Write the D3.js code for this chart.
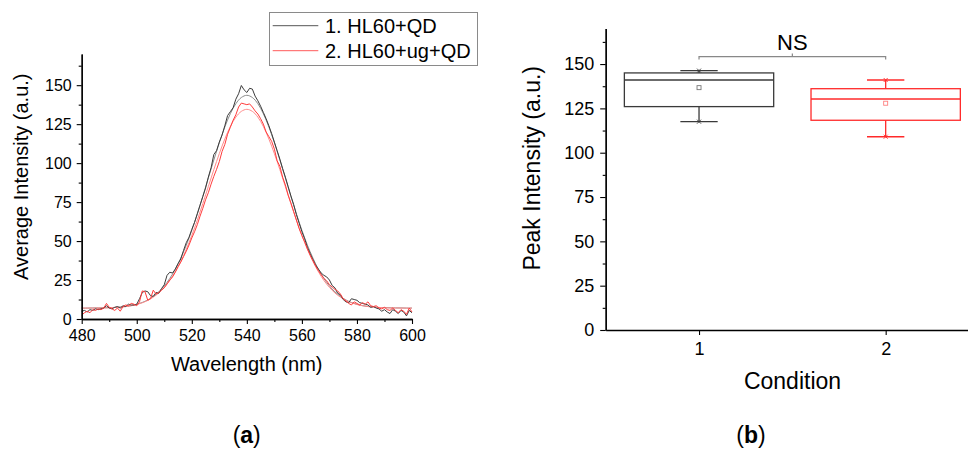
<!DOCTYPE html>
<html><head><meta charset="utf-8">
<script src="https://cdn.jsdelivr.net/npm/d3@7"></script>
<style>
html,body{margin:0;padding:0;background:#fff;}
svg{display:block;}
text{font-family:"Liberation Sans",Arial,sans-serif;fill:#000;}
</style></head>
<body><svg id="chart" width="968" height="450"></svg>
<script>
// ---------- Panel (a) data ----------
const rawWavelengths = d3.range(480, 601, 1);
const fitWavelengths = d3.range(480, 601, 2);
const seriesNames = ["1. HL60+QD", "2. HL60+ug+QD"];
const blackRaw = [5.0,5.5,4.5,6.0,5.5,6.5,6.0,6.5,7.0,8.5,
  7.0,6.5,7.5,8.0,7.0,8.5,8.0,9.5,9.0,9.0,
  9.5,13.0,17.0,18.0,17.5,15.0,14.5,17.0,16.5,19.5,
  22.0,28.0,30.0,29.5,32.0,35.5,38.5,44.0,49.0,52.5,
  57.5,62.0,67.5,73.0,78.5,84.0,91.0,97.0,105.5,108.0,
  113.5,118.0,124.0,130.5,133.0,135.5,141.0,144.5,149.8,147.0,
  145.3,148.0,147.5,143.0,140.0,136.5,132.5,128.5,124.0,119.0,
  113.5,108.0,102.5,96.5,91.0,85.0,79.0,73.5,67.0,61.5,
  56.0,51.5,46.0,42.0,38.0,34.5,32.0,29.5,28.0,27.0,
  25.0,21.5,20.0,16.5,15.5,12.5,11.0,10.5,13.0,12.5,
  12.0,10.5,10.0,9.5,9.0,7.5,8.0,7.0,6.5,5.0,
  6.0,4.5,3.5,6.0,5.0,3.5,5.5,4.5,2.0,5.5,4.0];
const redRaw = [2.5,4.0,5.0,4.0,6.0,5.5,6.5,6.0,7.0,10.0,
  7.5,6.5,5.5,7.0,5.0,8.0,9.0,8.5,10.0,9.5,
  8.5,11.0,18.0,17.5,12.0,13.0,18.5,16.0,17.0,18.5,
  20.0,22.5,25.0,27.0,30.0,33.5,36.5,40.0,43.5,47.5,
  52.0,56.0,60.5,66.0,71.0,76.5,81.0,86.5,91.5,96.0,
  101.0,107.5,112.0,118.5,123.0,127.5,131.0,136.0,138.5,138.0,
  137.5,138.0,136.0,133.5,131.5,128.5,125.0,120.0,117.0,114.0,
  109.0,101.5,98.0,91.0,86.0,79.5,74.5,69.0,63.5,58.0,
  53.5,49.5,45.0,41.0,37.5,34.0,31.0,28.5,26.0,24.5,
  22.0,20.5,19.0,18.0,16.0,13.0,11.5,10.0,9.0,11.0,
  10.0,9.0,10.5,9.5,11.0,8.5,8.0,8.5,7.0,6.5,
  7.5,6.0,5.5,7.0,5.5,4.0,6.0,5.0,3.0,7.0,4.5];
const blackFit = [7.0,7.0,7.1,7.1,7.2,7.3,7.4,7.7,8.0,8.6,
  9.4,10.6,12.2,14.5,17.4,21.2,26.0,31.9,39.1,47.4,
  56.9,67.4,78.7,90.4,102.0,113.1,123.2,131.7,138.1,142.1,
  143.5,
  142.1,138.1,131.7,123.2,113.1,102.0,90.4,78.7,67.4,56.9,
  47.4,39.1,31.9,26.0,21.2,17.4,14.5,12.2,10.6,9.4,
  8.6,8.0,7.7,7.4,7.3,7.2,7.1,7.1,7.0,7.0];
const redFit = [7.0,7.0,7.0,7.1,7.1,7.2,7.4,7.6,8.0,8.5,
  9.3,10.4,11.9,14.0,16.7,20.3,24.7,30.3,36.9,44.7,
  53.6,63.4,74.0,84.9,95.8,106.1,115.5,123.5,129.5,133.2,
  134.5,
  133.2,129.5,123.5,115.5,106.1,95.8,84.9,74.0,63.4,53.6,
  44.7,36.9,30.3,24.7,20.3,16.7,14.0,11.9,10.4,9.3,
  8.5,8.0,7.6,7.4,7.2,7.1,7.1,7.0,7.0,7.0];
const aXTicks = [480,500,520,540,560,580,600];
const aXMinor = [490,510,530,550,570,590];
const yTicks = [0,25,50,75,100,125,150];
const yMinor = [12.5,37.5,62.5,87.5,112.5,137.5,162.5];

// ---------- Panel (b) data ----------
const conditions = [1, 2];
const q1 = [126.0, 118.3];
const medians = [141.0, 130.3];
const q3 = [145.0, 136.1];
const whiskLow = [117.5, 109.0];
const whiskHigh = [146.3, 141.0];
const means = [136.7, 127.9];
const boxColors = ["#3a3a3a", "#ff2a2a"];
const meanColors = ["#777", "#ff8080"];

const svg = d3.select("#chart");
const FONT = '"Liberation Sans",Arial,sans-serif';

// ================= Panel (a) =================
const ax = d3.scaleLinear().domain([480, 600]).range([81.7, 412]);
const ay = d3.scaleLinear().domain([0, 170]).range([319, 54]);
const ga = svg.append("g");

function styleAxis(g, fs) {
  g.selectAll("path.domain").attr("stroke", "#000").attr("stroke-width", 1.3);
  g.selectAll(".tick line").attr("stroke", "#000").attr("stroke-width", 1.1);
  g.selectAll(".tick text").attr("font-family", FONT).attr("font-size", fs).attr("fill", "#000");
}

const line = (xs, sx, sy) => d3.line().x((d, i) => sx(xs[i])).y(d => sy(d));

// fits (lighter) then raw data
ga.append("path").datum(blackFit).attr("d", line(fitWavelengths, ax, ay).curve(d3.curveCatmullRom))
  .attr("fill", "none").attr("stroke", "#8a8a8a").attr("stroke-width", 1);
ga.append("path").datum(redFit).attr("d", line(fitWavelengths, ax, ay).curve(d3.curveCatmullRom))
  .attr("fill", "none").attr("stroke", "#ff8c8c").attr("stroke-width", 1);
ga.append("path").datum(blackRaw).attr("d", line(rawWavelengths, ax, ay))
  .attr("fill", "none").attr("stroke", "#3c3c3c").attr("stroke-width", 1);
ga.append("path").datum(redRaw).attr("d", line(rawWavelengths, ax, ay))
  .attr("fill", "none").attr("stroke", "#ff3c3c").attr("stroke-width", 1);

// axes
const axMinor = ga.append("g").attr("transform", "translate(0,319)")
  .call(d3.axisBottom(ax).tickValues(aXMinor).tickFormat("").tickSize(3).tickSizeOuter(0));
styleAxis(axMinor, 16);
const axMajor = ga.append("g").attr("transform", "translate(0,319)")
  .call(d3.axisBottom(ax).tickValues(aXTicks).tickFormat(d3.format("d")).tickSize(5).tickSizeOuter(0).tickPadding(6));
styleAxis(axMajor, 16);
const ayMinor = ga.append("g").attr("transform", "translate(81.7,0)")
  .call(d3.axisLeft(ay).tickValues(yMinor).tickFormat("").tickSize(3).tickSizeOuter(0));
styleAxis(ayMinor, 16);
const ayMajor = ga.append("g").attr("transform", "translate(81.7,0)")
  .call(d3.axisLeft(ay).tickValues(yTicks).tickFormat(d3.format("d")).tickSize(5).tickSizeOuter(0).tickPadding(5));
styleAxis(ayMajor, 16);

ga.append("text").attr("x", 246.7).attr("y", 371).attr("text-anchor", "middle")
  .attr("font-size", 20).text("Wavelength (nm)");
ga.append("text").attr("transform", "translate(27.6,176.7) rotate(-90)").attr("text-anchor", "middle")
  .attr("font-size", 20).text("Average Intensity (a.u.)");

// legend
const leg = ga.append("g");
leg.append("rect").attr("x", 269.5).attr("y", 12.5).attr("width", 208).attr("height", 53)
  .attr("fill", "#fff").attr("stroke", "#8a8a8a").attr("stroke-width", 1);
const legColors = ["#555", "#ff5a5a"];
seriesNames.forEach((name, i) => {
  const yy = 25.7 + i * 25;
  leg.append("line").attr("x1", 272.7).attr("x2", 318.3).attr("y1", yy).attr("y2", yy)
    .attr("stroke", legColors[i]).attr("stroke-width", 1);
  leg.append("text").attr("x", 325).attr("y", yy + 7.3).attr("font-size", 20).text(name);
});

ga.append("text").attr("x", 246.7).attr("y", 443).attr("text-anchor", "middle")
  .attr("font-family", '"Liberation Serif","Times New Roman",serif').attr("font-size", 23)
  .html('(<tspan font-weight="bold">a</tspan>)');

// ================= Panel (b) =================
const bx = d3.scaleLinear().domain([0.5, 2.5]).range([605.7, 979]);
const by = d3.scaleLinear().domain([0, 170]).range([330, 28.6]);
const gb = svg.append("g");
const boxW = 0.8, capW = 0.1;

conditions.forEach((c, i) => {
  const col = boxColors[i];
  const xl = bx(c - boxW / 2), xr = bx(c + boxW / 2);
  // whiskers
  gb.append("line").attr("x1", bx(c)).attr("x2", bx(c)).attr("y1", by(q3[i])).attr("y2", by(whiskHigh[i]))
    .attr("stroke", col).attr("stroke-width", 1.3);
  gb.append("line").attr("x1", bx(c)).attr("x2", bx(c)).attr("y1", by(q1[i])).attr("y2", by(whiskLow[i]))
    .attr("stroke", col).attr("stroke-width", 1.3);
  [whiskHigh[i], whiskLow[i]].forEach(v => {
    gb.append("line").attr("x1", bx(c - capW)).attr("x2", bx(c + capW)).attr("y1", by(v)).attr("y2", by(v))
      .attr("stroke", col).attr("stroke-width", 1.3);
    const s = 2;
    gb.append("path").attr("d", `M${bx(c)-s},${by(v)-s}L${bx(c)+s},${by(v)+s}M${bx(c)-s},${by(v)+s}L${bx(c)+s},${by(v)-s}`)
      .attr("stroke", col).attr("stroke-width", 0.9).attr("fill", "none");
  });
  // box
  gb.append("rect").attr("x", xl).attr("y", by(q3[i])).attr("width", xr - xl).attr("height", by(q1[i]) - by(q3[i]))
    .attr("fill", "none").attr("stroke", col).attr("stroke-width", 1.3);
  gb.append("line").attr("x1", xl).attr("x2", xr).attr("y1", by(medians[i])).attr("y2", by(medians[i]))
    .attr("stroke", col).attr("stroke-width", 1.3);
  // mean
  gb.append("rect").attr("x", bx(c) - 2).attr("y", by(means[i]) - 2).attr("width", 4).attr("height", 4)
    .attr("fill", "none").attr("stroke", meanColors[i]).attr("stroke-width", 0.9);
});

// axes b
const byMinor = gb.append("g").attr("transform", "translate(605.7,0)")
  .call(d3.axisLeft(by).tickValues(yMinor).tickFormat("").tickSize(3).tickSizeOuter(0));
styleAxis(byMinor, 18);
const byMajor = gb.append("g").attr("transform", "translate(605.7,0)")
  .call(d3.axisLeft(by).tickValues(yTicks).tickFormat(d3.format("d")).tickSize(5.5).tickSizeOuter(0).tickPadding(6));
styleAxis(byMajor, 18);
const bxAxis = gb.append("g").attr("transform", "translate(0,330)")
  .call(d3.axisBottom(bx).tickValues(conditions).tickFormat(d3.format("d")).tickSize(5).tickSizeOuter(0).tickPadding(7));
styleAxis(bxAxis, 18);

// NS bracket
const bk = gb.append("g").attr("stroke", "#888").attr("stroke-width", 1.2).attr("fill", "none");
const mid = (bx(conditions[0]) + bx(conditions[1])) / 2;
bk.append("path").attr("d", `M${bx(conditions[0])},59.5V56.7H${bx(conditions[1])}V59.5M${mid},56.7V53.5`);
gb.append("text").attr("x", mid).attr("y", 50).attr("text-anchor", "middle").attr("font-size", 22).text("NS");

gb.append("text").attr("x", 792.5).attr("y", 389).attr("text-anchor", "middle")
  .attr("font-size", 23).text("Condition");
gb.append("text").attr("transform", "translate(539.8,168.3) rotate(-90)").attr("text-anchor", "middle")
  .attr("font-size", 23).text("Peak Intensity (a.u.)");

gb.append("text").attr("x", 751).attr("y", 443).attr("text-anchor", "middle")
  .attr("font-family", '"Liberation Serif","Times New Roman",serif').attr("font-size", 23)
  .html('(<tspan font-weight="bold">b</tspan>)');
</script></body></html>
